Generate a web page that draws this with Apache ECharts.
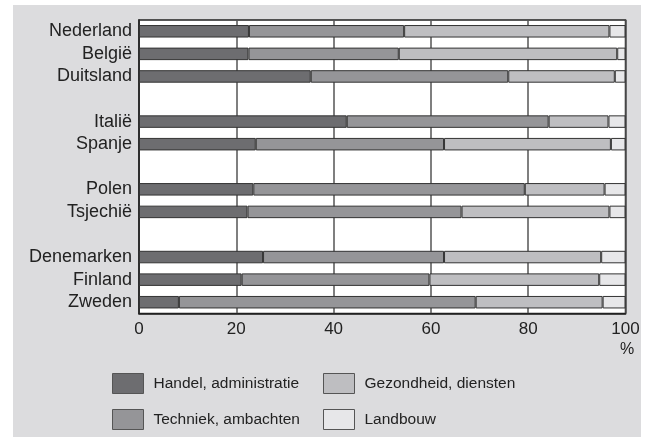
<!DOCTYPE html>
<html><head><meta charset="utf-8">
<script src="https://cdn.jsdelivr.net/npm/echarts@6/dist/echarts.min.js"></script>
<style>html,body{margin:0;padding:0;background:#fff}#c{width:650px;height:441px}</style>
</head><body><div id="c"></div>
<script>
var categories = ['Nederland','België','Duitsland',' ','Italië','Spanje','  ','Polen','Tsjechië','   ','Denemarken','Finland','Zweden'];
var handel     = [22.6, 22.5, 35.3, null, 42.7, 24.0, null, 23.5, 22.3, null, 25.5, 21.1, 8.2];
var techniek   = [31.9, 30.9, 40.6, null, 41.5, 38.7, null, 55.8, 44.0, null, 37.2, 38.6, 61.0];
var gezondheid = [42.2, 44.9, 21.9, null, 12.3, 34.3, null, 16.4, 30.4, null, 32.3, 34.9, 26.1];
var landbouw   = [3.3, 1.7, 2.2, null, 3.5, 3.0, null, 4.3, 3.3, null, 5.0, 5.4, 4.7];
var xTicks = [0, 20, 40, 60, 80, 100];
var seriesNames = ['Handel, administratie','Techniek, ambachten','Gezondheid, diensten','Landbouw'];
var colors = ['#6d6d70','#959598','#bebec1','#e7e7e9'];

var chart = echarts.init(document.getElementById('c'), null, {renderer:'canvas'});
var font = '"Liberation Sans", Arial, Helvetica, sans-serif';
function mk(i, data){
  return {name: seriesNames[i], type:'bar', stack:'s', data:data, barWidth:12.5,
    itemStyle:{color:colors[i], borderColor:'#333', borderWidth:1}, emphasis:{disabled:true}};
}
var legendText = {fontSize:15.5, color:'#222', fontFamily:font, fontWeight:'normal', padding:[0,0,0,5]};
chart.setOption({
  animation:false,
  textStyle:{fontFamily:font, fontWeight:'normal'},
  graphic:[
    {type:'rect', shape:{x:13,y:5,width:628,height:432}, style:{fill:'#dcdcde'}, z:-10, silent:true},
    {type:'text', left:620, top:342, style:{text:'%', font:'normal 16px '+font, fill:'#222'}}
  ],
  grid:{left:139, right:24.5, top:20, bottom:127.5, show:true, backgroundColor:'#fff', borderColor:'#222', borderWidth:1.5},
  xAxis:{type:'value', min:xTicks[0], max:xTicks[xTicks.length-1], interval:20,
    axisLine:{show:true, lineStyle:{color:'#222', width:1.5}}, axisTick:{show:false},
    axisLabel:{color:'#222', fontSize:17, margin:7, fontFamily:font, fontWeight:'normal'},
    splitLine:{show:true, lineStyle:{color:'#555', width:1.5}}},
  yAxis:{type:'category', data:categories, inverse:true,
    axisLine:{show:true, lineStyle:{color:'#222', width:1.5}}, axisTick:{show:false},
    axisLabel:{color:'#222', fontSize:18, margin:7, interval:0, fontFamily:font, fontWeight:'normal'}},
  legend:[
    {orient:'vertical', left:112, top:373, itemWidth:31, itemHeight:20, itemGap:15,
     data:[seriesNames[0], seriesNames[1]], textStyle:legendText,
     itemStyle:{borderColor:'#555', borderWidth:1}, selectedMode:false, padding:0, icon:'rect'},
    {orient:'vertical', left:323, top:373, itemWidth:31, itemHeight:20, itemGap:15,
     data:[seriesNames[2], seriesNames[3]], textStyle:legendText,
     itemStyle:{borderColor:'#555', borderWidth:1}, selectedMode:false, padding:0, icon:'rect'}
  ],
  series:[mk(0,handel), mk(1,techniek), mk(2,gezondheid), mk(3,landbouw)]
});
</script></body></html>
